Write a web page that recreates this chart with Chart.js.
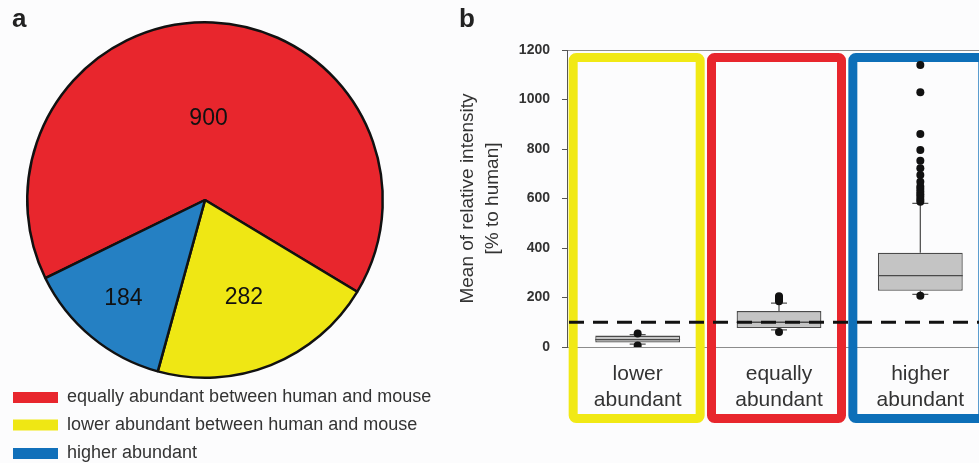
<!DOCTYPE html>
<html><head><meta charset="utf-8">
<script src="https://cdn.jsdelivr.net/npm/chart.js@4.4.1/dist/chart.umd.min.js"></script>
<style>
html,body{margin:0;padding:0;background:#fcfcfd;overflow:hidden;width:979px;height:463px;}
#pieWrap{position:absolute;left:0;top:0;width:450px;height:463px;}
#boxWrap{position:absolute;left:450px;top:0;width:545px;height:463px;}
.lab{position:absolute;font:bold 26px "Liberation Sans",Arial,sans-serif;color:#222;line-height:26px;}
</style></head>
<body>
<div id="pieWrap"><canvas id="pie" width="450" height="463"></canvas></div>
<div id="boxWrap"><canvas id="box" width="545" height="463"></canvas></div>
<div class="lab" style="left:12px;top:5px">a</div>
<div class="lab" style="left:459px;top:5px">b</div>
<script>
// ---- Panel a: pie ----
const pieLabels = ['equally abundant between human and mouse', 'lower abundant between human and mouse', 'higher abundant'];
const pieCounts = [900, 282, 184];
const pieColors = ['#e8262d', '#efe714', '#2580c3'];
const legendColors = ['#e8262d', '#efe714', '#1170ba'];

// ---- Panel b: box plot ----
const boxCategories = [['lower', 'abundant'], ['equally', 'abundant'], ['higher', 'abundant']];
const boxQ1 = [18, 77, 227];
const boxQ3 = [46, 145, 381];
const boxMedian = [30, 100, 288];
const whiskerLow = [12, 69, 213];
const whiskerHigh = [50, 177, 580];
const outliersLower = [55, 6];
const outliersEqually = [61, 185, 190, 195, 200, 205];
const outliersHigher = [207, 587, 596, 607, 617, 627, 638, 648, 668, 695, 722, 753, 796, 861, 1029, 1139];
const referenceValue = 100;
const yMin = 0, yMax = 1200, yStep = 200;
const frameColors = ['#f1e915', '#e8262d', '#0d6fb8'];

const FONT = '"Liberation Sans", Arial, sans-serif';
Chart.defaults.font.family = FONT;

const pieExtras = {
  id: 'pieExtras',
  afterDatasetsDraw(chart, args, opts) {
    const ctx = chart.ctx;
    const meta = chart.getDatasetMeta(0);
    ctx.save();
    ctx.fillStyle = '#111';
    ctx.font = '23px ' + FONT;
    ctx.textAlign = 'center';
    ctx.textBaseline = 'middle';
    meta.data.forEach((arc, i) => {
      const a = (arc.startAngle + arc.endAngle) / 2;
      const r = arc.outerRadius * opts.labelFrac[i];
      ctx.fillText(String(pieCounts[i]), arc.x + Math.cos(a) * r, arc.y + Math.sin(a) * r);
    });
    // legend
    ctx.textAlign = 'left';
    ctx.font = '18px ' + FONT;
    pieLabels.forEach((lab, i) => {
      const top = opts.legendTops[i];
      ctx.fillStyle = legendColors[i];
      ctx.fillRect(13, top, 45, 11);
      ctx.fillStyle = '#333';
      ctx.fillText(lab, 67, top + 5.5);
    });
    ctx.restore();
  }
};

new Chart(document.getElementById('pie'), {
  type: 'pie',
  data: {
    labels: pieLabels,
    datasets: [{
      data: pieCounts,
      backgroundColor: pieColors,
      borderColor: '#111',
      borderWidth: 2.5,
      hoverOffset: 0
    }]
  },
  options: {
    responsive: false,
    animation: false,
    rotation: 243.9,
    layout: { padding: { left: 26, top: 21, right: 66, bottom: 84 } },
    plugins: {
      legend: { display: false },
      tooltip: { enabled: false },
      pieExtras: { labelFrac: [0.46, 0.59, 0.72], legendTops: [392, 419.5, 448] }
    }
  },
  plugins: [pieExtras]
});

const outlierPoints = [];
[outliersLower, outliersEqually, outliersHigher].forEach((arr, i) => arr.forEach(v => outlierPoints.push({ x: i, y: v })));

const boxExtras = {
  id: 'boxExtras',
  beforeDatasetsDraw(chart, args, opts) {
    const { ctx, scales: { x, y } } = chart;
    ctx.save();
    // coloured frames
    const top = y.getPixelForValue(yMax) + 3;
    const bottom = opts.frameBottom;
    ctx.lineWidth = 9;
    boxCategories.forEach((c, i) => {
      const cx = x.getPixelForValue(i);
      const l = cx - opts.frameLeft[i], r = cx + opts.frameRight;
      ctx.strokeStyle = frameColors[i];
      ctx.beginPath();
      ctx.roundRect(l + 4.5, top + 4.5, r - l - 9, bottom - top - 9, 3);
      ctx.stroke();
    });
    // whiskers
    ctx.strokeStyle = '#555';
    ctx.lineWidth = 1.3;
    boxCategories.forEach((c, i) => {
      const cx = x.getPixelForValue(i);
      const pairs = [[boxQ3[i], whiskerHigh[i]], [boxQ1[i], whiskerLow[i]]];
      pairs.forEach(([a, b]) => {
        const ya = y.getPixelForValue(a), yb = y.getPixelForValue(b);
        ctx.beginPath();
        ctx.moveTo(cx, ya); ctx.lineTo(cx, yb);
        ctx.moveTo(cx - 8, yb); ctx.lineTo(cx + 8, yb);
        ctx.stroke();
      });
    });
    ctx.restore();
  },
  afterDatasetsDraw(chart, args, opts) {
    const { ctx, chartArea, scales: { y } } = chart;
    const bars = chart.getDatasetMeta(1).data;
    ctx.save();
    ctx.strokeStyle = '#4a4a4a';
    ctx.lineWidth = 1.3;
    bars.forEach((bar, i) => {
      const ym = y.getPixelForValue(boxMedian[i]);
      ctx.beginPath();
      ctx.moveTo(bar.x - bar.width / 2, ym);
      ctx.lineTo(bar.x + bar.width / 2, ym);
      ctx.stroke();
    });
    // reference dashed line
    const yr = y.getPixelForValue(referenceValue);
    ctx.strokeStyle = '#111';
    ctx.lineWidth = 3;
    ctx.setLineDash([15, 9]);
    ctx.beginPath();
    ctx.moveTo(chartArea.left + 2, yr);
    ctx.lineTo(chartArea.right, yr);
    ctx.stroke();
    ctx.restore();
  }
};

new Chart(document.getElementById('box'), {
  type: 'bar',
  data: {
    labels: boxCategories,
    datasets: [
      {
        type: 'line', label: 'outliers', data: outlierPoints, xAxisID: 'x2',
        showLine: false, pointRadius: 4, pointHoverRadius: 4,
        pointBackgroundColor: '#111', pointBorderColor: '#111', pointBorderWidth: 0, order: 0
      },
      {
        type: 'bar', label: 'IQR', data: boxQ1.map((q, i) => [q, boxQ3[i]]),
        backgroundColor: '#c4c4c4', borderColor: '#4a4a4a', borderWidth: 1.3, borderSkipped: false,
        barPercentage: 0.6, categoryPercentage: 1, grouped: false, order: 1
      }
    ]
  },
  options: {
    responsive: false,
    animation: false,
    layout: { padding: { top: 50, left: 0, right: 0, bottom: 0 } },
    plugins: {
      legend: { display: false },
      tooltip: { enabled: false },
      boxExtras: { frameLeft: [69, 72, 72], frameRight: 67, frameBottom: 423 }
    },
    scales: {
      x: {
        type: 'category', offset: true,
        grid: { display: false }, border: { display: false },
        ticks: { color: '#333', font: { size: 21 }, padding: 7, maxRotation: 0, autoSkip: false },
        afterFit(s) { s.height = 116; }
      },
      x2: { type: 'linear', display: false, offset: false, grace: 0, bounds: 'data', min: -0.5, max: 2.5, grid: { offset: false } },
      y: {
        min: yMin, max: yMax,
        ticks: { stepSize: yStep, color: '#333', font: { size: 14, weight: 'bold' }, padding: 12, callback: v => String(v) },
        grid: {
          color: c => (c.tick && (c.tick.value === yMin || c.tick.value === yMax)) ? '#8c8c8c' : 'rgba(0,0,0,0)',
          tickColor: '#555', tickLength: 5, lineWidth: 1
        },
        border: { color: '#555', width: 1 },
        title: {
          display: true, text: ['Mean of relative intensity', '[% to human]'], color: '#333',
          font: { size: 19, lineHeight: 25 / 19 }, padding: { top: 5.5, bottom: 0 }
        },
        afterFit(s) { s.width = 117; }
      }
    }
  },
  plugins: [boxExtras]
});
</script>
</body></html>
